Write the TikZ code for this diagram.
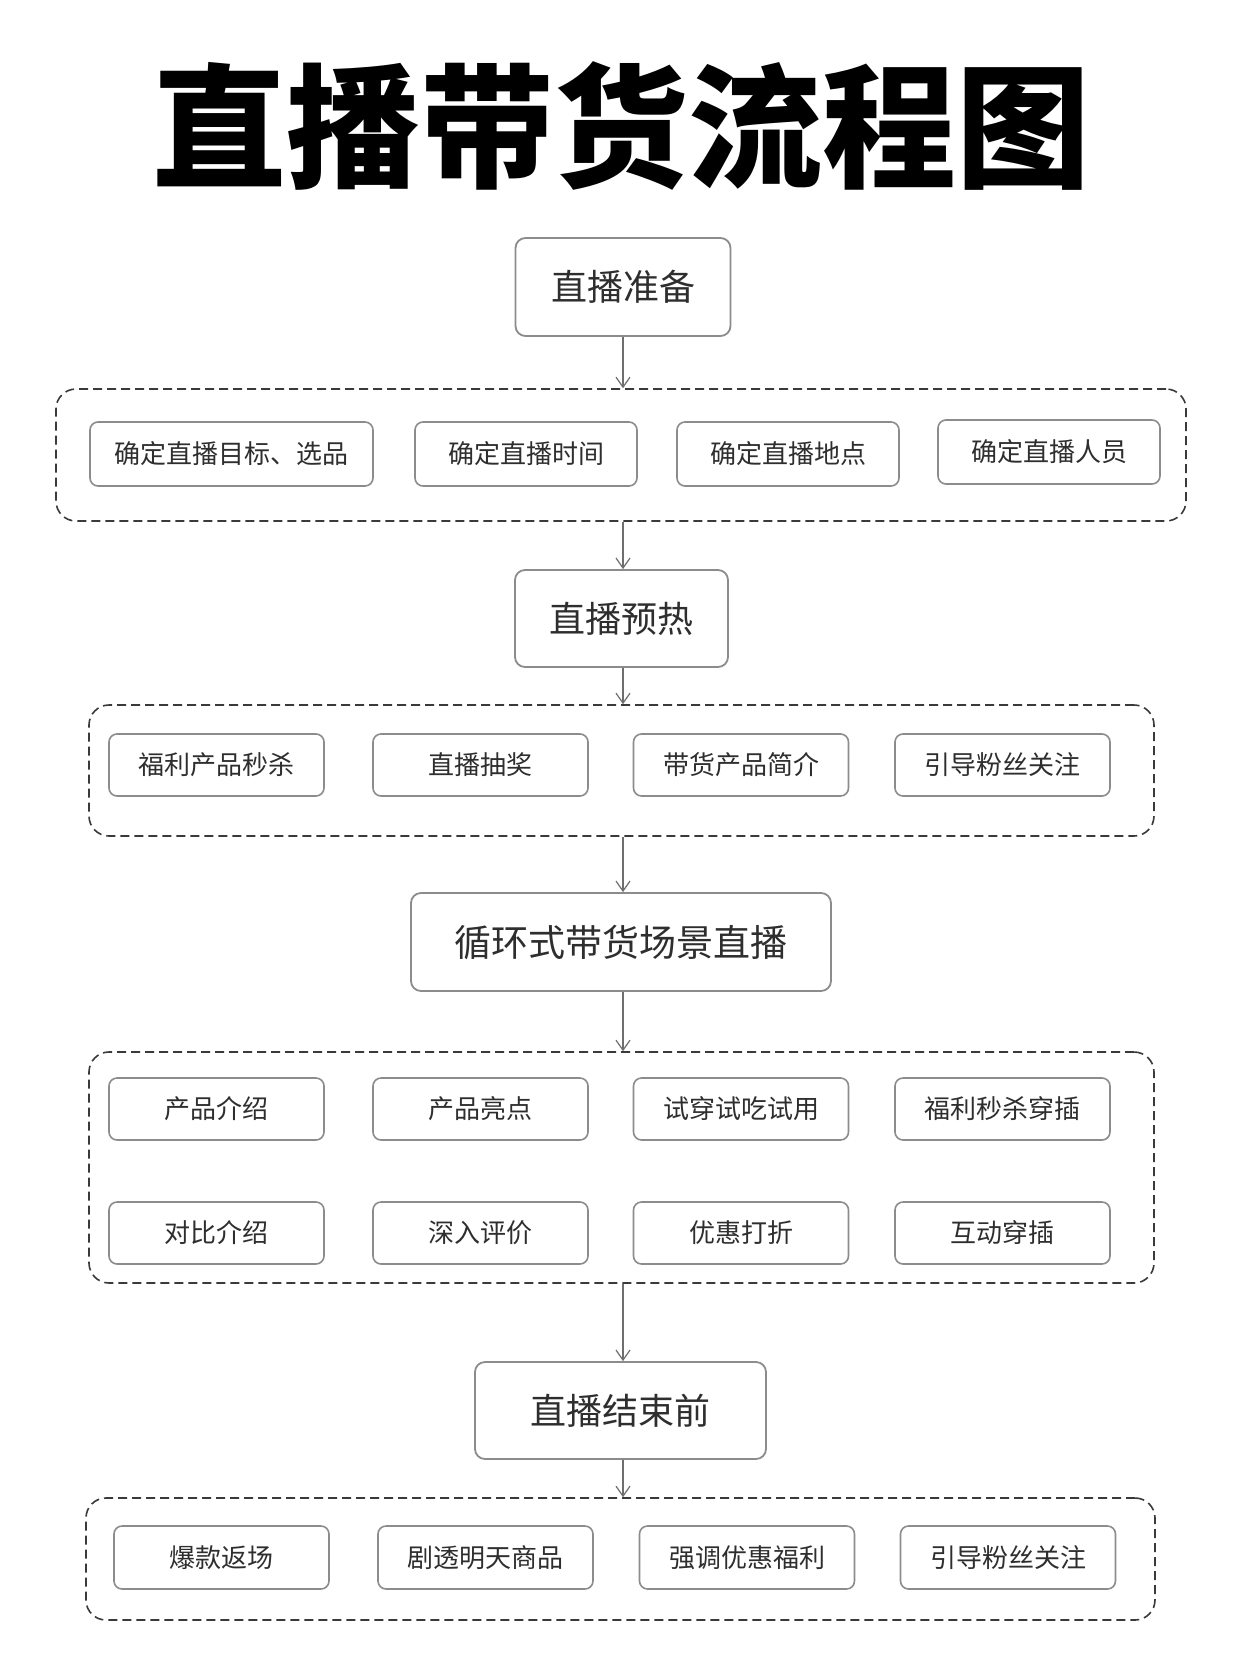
\documentclass[tikz,border=0pt]{standalone}
\usepackage{fontspec}
\usetikzlibrary{arrows.meta}
\newfontfamily\cjk{Noto Sans CJK SC}
\newfontfamily\cjkblack{Noto Sans CJK SC Black}
\definecolor{boxgray}{HTML}{8C8C8C}
\definecolor{dashgray}{HTML}{3A3A3A}
\definecolor{arrgray}{HTML}{6E6E6E}
\definecolor{txt}{HTML}{2E2E2E}
\tikzset{
  bigbox/.style={draw=boxgray, line width=1.8pt, rounded corners=10pt, inner sep=0pt,
    font=\cjk\fontsize{36}{36}\selectfont, text=txt},
  smallbox/.style={draw=boxgray, line width=1.6pt, rounded corners=8pt, minimum width=215pt,
    minimum height=62pt, inner sep=0pt, font=\cjk\fontsize{26}{26}\selectfont, text=txt},
  grp/.style={draw=dashgray, line width=1.6pt, rounded corners=20pt, dash pattern=on 9pt off 5pt, inner sep=0pt},
  arr/.style={draw=arrgray, line width=1.2pt, -{Straight Barb[length=10pt,width=14pt]}},
}
\begin{document}
\begin{tikzpicture}[x=1pt,y=-1pt]
\useasboundingbox[fill=white] (0,0) rectangle (1242,1660);
% title
\node[font=\cjkblack\fontsize{134}{134}\selectfont, inner sep=0pt] (title) at (621,126) {直播带货流程图};
% main steps
\node[bigbox, minimum width=215pt, minimum height=98pt] (p1) at (623,287) {直播准备};
\node[bigbox, minimum width=213pt, minimum height=97pt] (p2) at (621.5,618.5) {直播预热};
\node[bigbox, minimum width=420pt, minimum height=98pt, font=\cjk\fontsize{37}{37}\selectfont] (p3) at (621,942) {循环式带货场景直播};
\node[bigbox, minimum width=291pt, minimum height=97pt] (p4) at (620.5,1410.5) {直播结束前};
% groups
\node[grp, minimum width=1130pt, minimum height=132pt] (g1) at (621,455) {};
\node[grp, minimum width=1065pt, minimum height=131pt] (g2) at (621.5,770.5) {};
\node[grp, minimum width=1065pt, minimum height=231pt] (g3) at (621.5,1167.5) {};
\node[grp, minimum width=1069pt, minimum height=122pt] (g4) at (620.5,1559) {};
% group 1
\node[smallbox, minimum width=283pt, minimum height=64pt] (a1) at (231.5,454) {确定直播目标、选品};
\node[smallbox, minimum width=222pt, minimum height=64pt] (a2) at (526,454) {确定直播时间};
\node[smallbox, minimum width=222pt, minimum height=64pt] (a3) at (788,454) {确定直播地点};
\node[smallbox, minimum width=222pt, minimum height=64pt] (a4) at (1049,452) {确定直播人员};
% group 2
\node[smallbox] (b1) at (216.5,765) {福利产品秒杀};
\node[smallbox] (b2) at (480.5,765) {直播抽奖};
\node[smallbox] (b3) at (741,765) {带货产品简介};
\node[smallbox] (b4) at (1002.5,765) {引导粉丝关注};
% group 3
\node[smallbox] (c1) at (216.5,1109) {产品介绍};
\node[smallbox] (c2) at (480.5,1109) {产品亮点};
\node[smallbox] (c3) at (741,1109) {试穿试吃试用};
\node[smallbox] (c4) at (1002.5,1109) {福利秒杀穿插};
\node[smallbox] (c5) at (216.5,1233) {对比介绍};
\node[smallbox] (c6) at (480.5,1233) {深入评价};
\node[smallbox] (c7) at (741,1233) {优惠打折};
\node[smallbox] (c8) at (1002.5,1233) {互动穿插};
% group 4
\node[smallbox, minimum height=63pt] (d1) at (221.5,1557.5) {爆款返场};
\node[smallbox, minimum height=63pt] (d2) at (485.5,1557.5) {剧透明天商品};
\node[smallbox, minimum height=63pt] (d3) at (747,1557.5) {强调优惠福利};
\node[smallbox, minimum height=63pt] (d4) at (1008,1557.5) {引导粉丝关注};
% arrows
\draw[arr] (p1.south) -- (p1.south |- g1.north);
\draw[arr] (p1.south |- g1.south) -- (p1.south |- p2.north);
\draw[arr] (p1.south |- p2.south) -- (p1.south |- g2.north);
\draw[arr] (p1.south |- g2.south) -- (p1.south |- p3.north);
\draw[arr] (p1.south |- p3.south) -- (p1.south |- g3.north);
\draw[arr] (p1.south |- g3.south) -- (p1.south |- p4.north);
\draw[arr] (p1.south |- p4.south) -- (p1.south |- g4.north);
\end{tikzpicture}
\end{document}
